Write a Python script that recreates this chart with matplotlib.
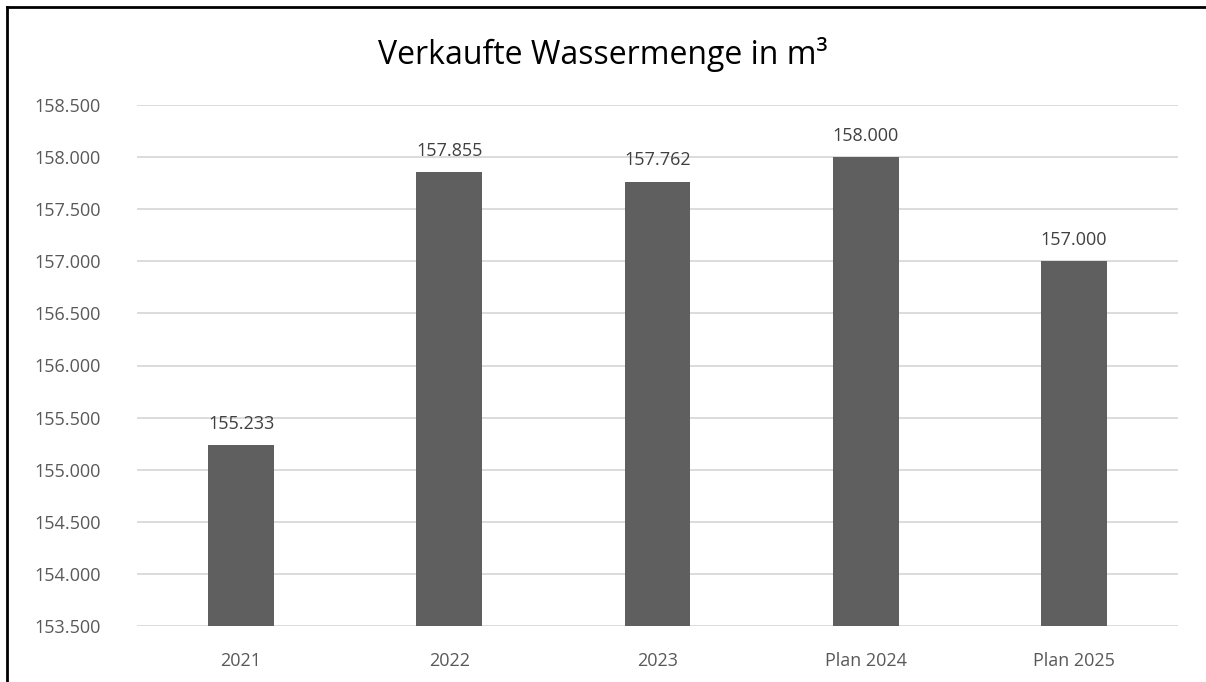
import matplotlib
matplotlib.use("Agg")
import matplotlib.pyplot as plt
from matplotlib.ticker import FuncFormatter

categories = ["2021", "2022", "2023", "Plan 2024", "Plan 2025"]
values = [155233, 157855, 157762, 158000, 157000]
y_ticks = [153500, 154000, 154500, 155000, 155500, 156000, 156500, 157000, 157500, 158000, 158500]

plt.rcParams["font.family"] = ["Open Sans", "DejaVu Sans"]
text_col = "#595959"

fig = plt.figure(figsize=(12.06, 6.82), dpi=100)
ax = fig.add_axes([137 / 1206, 1 - 626 / 682, (1178 - 137) / 1206, (626 - 105) / 682])

x = range(len(categories))
ax.bar(x, values, width=0.316, color="#5f5f5f", zorder=3)

for xi, v in zip(x, values):
    ax.annotate(f"{v:,}".replace(",", "."), (xi, v), xytext=(0, 9), textcoords="offset points",
                ha="center", va="bottom", fontsize=13, color="#404040")

ax.set_xlim(-0.5, len(categories) - 0.5)
ax.set_ylim(y_ticks[0], y_ticks[-1])
ax.set_yticks(y_ticks)
ax.yaxis.set_major_formatter(FuncFormatter(lambda v, p: f"{int(v):,}".replace(",", ".")))
ax.set_xticks(list(x))
ax.set_xticklabels(categories)
ax.tick_params(axis="both", length=0, labelsize=13, labelcolor=text_col)
ax.tick_params(axis="y", pad=26)
ax.tick_params(axis="x", pad=19)
ax.grid(axis="y", color="#d9d9d9", linewidth=1.3, zorder=0)
for s in ax.spines.values():
    s.set_visible(False)

fig.text(0.5, 1 - 54 / 682, "Verkaufte Wassermenge in m³", ha="center", va="center",
         fontsize=23, color="black")

# chart border (left and top edges visible)
fig.add_artist(plt.Line2D([7 / 1206, 7 / 1206], [0, 1 - 7 / 682], color="black", linewidth=2,
                          transform=fig.transFigure))
fig.add_artist(plt.Line2D([7 / 1206, 1], [1 - 7 / 682, 1 - 7 / 682], color="black", linewidth=2,
                          transform=fig.transFigure))

fig.savefig("out.png", dpi=100)
